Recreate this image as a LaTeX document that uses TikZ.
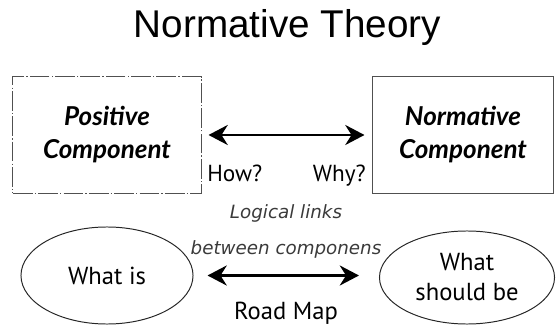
\documentclass[tikz,border=0pt]{standalone}
\usepackage{fontspec}
\setmainfont{PT Sans}
\newfontfamily\titlefont{Liberation Sans}
\newfontfamily\handfont{Lato}
\newfontfamily\linkfont{DejaVu Sans}
\usetikzlibrary{arrows.meta,shapes.geometric}
\definecolor{boxgray}{HTML}{505050}
\definecolor{linkgray}{HTML}{3A3A3A}

\begin{document}
\begin{tikzpicture}[x=0.025cm,y=-0.025cm,
 comp/.style={draw=boxgray,line width=0.7pt,minimum height=2.9cm,align=center,inner sep=2pt,font=\handfont\bfseries\itshape\fontsize{18.5}{23.5}\selectfont},
 dashbox/.style={dash pattern=on 14pt off 1.5pt on 1pt off 1.5pt},
 state/.style={ellipse,draw=black!85,line width=0.7pt,inner sep=0pt,align=center,font=\fontsize{17.5}{21.3}\selectfont},
 lbl/.style={anchor=base,inner sep=0pt,font=\fontsize{16.5}{18}\selectfont},
 link/.style={anchor=base,inner sep=0pt,text=linkgray,font=\linkfont\itshape\fontsize{13}{15}\selectfont},
 a/.style={{Stealth[length=4.8mm,width=5mm]}-{Stealth[length=4.8mm,width=5mm]},line width=2pt}]
\useasboundingbox (0,0) rectangle (556,326);

\node[anchor=base,inner sep=0pt,font=\titlefont\fontsize{27.5}{30}\selectfont] (title) at (287.5,38) {Normative Theory};

% components
\node[comp,dashbox,minimum width=4.7cm] (pos) at (107,135) {Positive\\Component};
\node[comp,minimum width=4.5cm] (norm) at (463,135) {Normative\\Component};
\draw[a,shorten <=0.175cm,shorten >=0.2cm] (pos) -- (norm);
\node[lbl,anchor=base west] (how) at (207,182) {How?};
\node[lbl,anchor=base east] (why) at (366,182) {Why?};

\node[link] (links) at (286,219) {Logical links};
\node[link] (between) at (286,255) {between componens};

% road map
\node[state,minimum width=4.3cm,minimum height=2.425cm] (is) at (107,275.5) {What is};
\node[state,minimum width=4.375cm,minimum height=2.325cm] (should) at (467,277.5) {What\\should be};
\draw[a,shorten <=0.35cm,shorten >=0.5cm] (is.east) -- (is.east -| should.west);
\node[lbl,font=\fontsize{17.5}{20}\selectfont] (road) at (286,319.5) {Road Map};
\end{tikzpicture}
\end{document}
